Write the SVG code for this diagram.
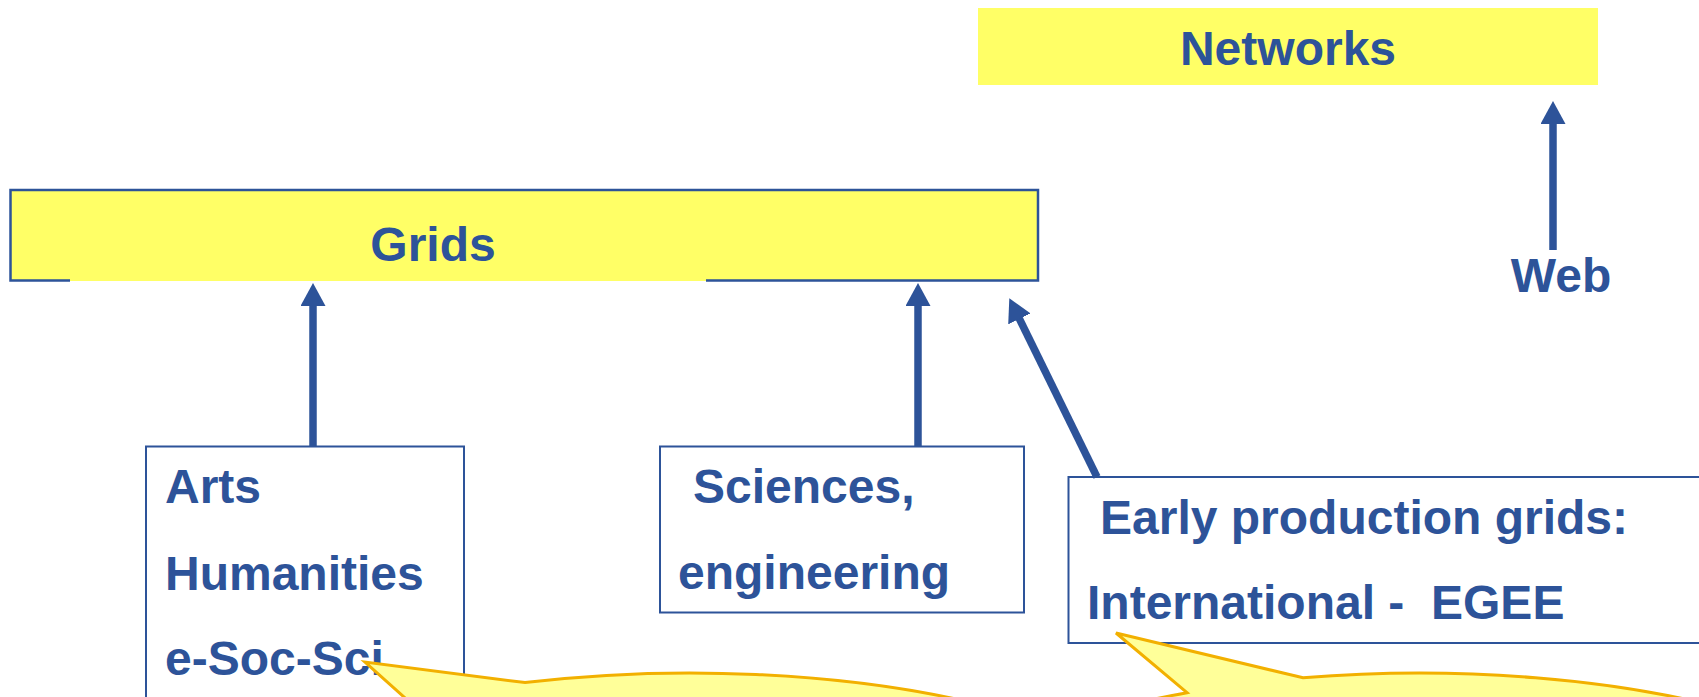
<svg xmlns="http://www.w3.org/2000/svg" width="1699" height="697" viewBox="0 0 1699 697">
  <style>
    .t { font-family: "Liberation Sans", Arial, sans-serif; font-weight: bold; font-size: 48px; fill: #2D5399; white-space: pre; }
    .box { fill: #FFFFFF; stroke: #2D5399; stroke-width: 2; }
    .ybox { fill: #FFFF66; }
    .yborder { fill: none; stroke: #2D5399; stroke-width: 2.5; }
    .conn { stroke: #2D5399; stroke-width: 7.5; fill: none; marker-end: url(#ah); }
    .callout { fill: #FFFF99; stroke: #F2B000; stroke-width: 3; stroke-linejoin: miter; }
  </style>
  <defs>
    <marker id="ah" markerUnits="userSpaceOnUse" markerWidth="26" markerHeight="26" refX="1" refY="12.5" orient="auto">
      <path d="M0,0 L23,12.5 L0,25 z" fill="#2D5399"/>
    </marker>
  </defs>
  <rect width="1699" height="697" fill="#FFFFFF"/>

  <g id="networks">
    <rect class="ybox" x="978" y="8" width="620" height="77"/>
    <text class="t" x="1288" y="65" text-anchor="middle">Networks</text>
  </g>

  <g id="grids">
    <rect class="ybox" x="10" y="190" width="1028" height="91"/>
    <path class="yborder" d="M70 280.5 L10.5 280.5 L10.5 190 L1038 190 L1038 280.5 L706 280.5"/>
    <text class="t" x="433" y="261" text-anchor="middle">Grids</text>
  </g>

  <g id="web">
    <text class="t" x="1561" y="292" text-anchor="middle">Web</text>
  </g>

  <g id="arts">
    <rect class="box" x="146" y="446.5" width="318" height="280"/>
    <text class="t" x="165" y="503">Arts</text>
    <text class="t" x="165" y="590">Humanities</text>
    <text class="t" x="165" y="675">e-Soc-Sci</text>
  </g>

  <g id="sciences">
    <rect class="box" x="660" y="446.5" width="364" height="166"/>
    <text class="t" x="693" y="503">Sciences,</text>
    <text class="t" x="678" y="589">engineering</text>
  </g>

  <g id="early">
    <rect class="box" x="1068.5" y="477" width="660" height="166"/>
    <text class="t" x="1100" y="534">Early production grids:</text>
    <text class="t" x="1087" y="619">International -  EGEE</text>
  </g>

  <g id="connectors">
    <line class="conn" x1="313" y1="446" x2="313" y2="305"/>
    <line class="conn" x1="918" y1="446" x2="918" y2="305"/>
    <line class="conn" x1="1097" y1="477" x2="1019" y2="318"/>
    <line class="conn" x1="1553" y1="250" x2="1553" y2="123"/>
  </g>

  <g id="callout1">
    <path class="callout" d="M410 702.4 L365 662 L525 682.6 A500 171 0 1 1 410 702.4 Z"/>
  </g>
  <g id="callout2">
    <path class="callout" d="M1187 692.7 L1116 633 L1303 677.8 A500 171 0 1 1 1187 692.7 Z"/>
  </g>
</svg>
